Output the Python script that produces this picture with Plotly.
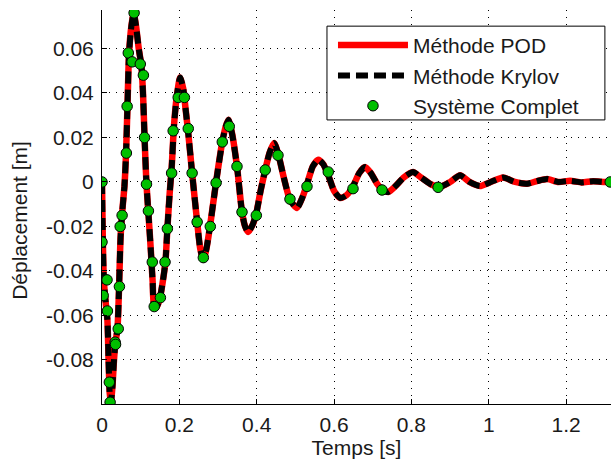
import plotly.graph_objects as go

# Reduced-model responses (POD and Krylov curves overlap)
t_line = [0.000, 0.002, 0.005, 0.010, 0.014, 0.017, 0.020, 0.023, 0.027, 0.031,
          0.035, 0.040, 0.044, 0.048, 0.053, 0.058, 0.062, 0.066, 0.070, 0.076,
          0.082, 0.088, 0.095, 0.102, 0.106, 0.110, 0.115, 0.120, 0.126, 0.131,
          0.135, 0.142, 0.150, 0.157, 0.164, 0.169, 0.175, 0.180, 0.186, 0.193,
          0.202, 0.210, 0.216, 0.223, 0.233, 0.246, 0.254, 0.262, 0.270, 0.280,
          0.295, 0.311, 0.320, 0.327, 0.336, 0.349, 0.362, 0.370, 0.378, 0.390,
          0.399, 0.410, 0.422, 0.433, 0.445, 0.455, 0.470, 0.486, 0.504, 0.518,
          0.530, 0.545, 0.559, 0.572, 0.585, 0.600, 0.616, 0.632, 0.649, 0.665,
          0.680, 0.695, 0.712, 0.725, 0.740, 0.758, 0.780, 0.804, 0.825, 0.850,
          0.874, 0.900, 0.926, 0.950, 0.977, 1.005, 1.037, 1.068, 1.099, 1.125,
          1.151, 1.180, 1.210, 1.240, 1.270, 1.300, 1.320]
pod_vals = [0.000, -0.025, -0.045, -0.055, -0.062, -0.080, -0.095, -0.099, -0.092, -0.080,
            -0.072, -0.066, -0.048, -0.025, -0.012, -0.002, 0.012, 0.035, 0.058, 0.070,
            0.076, 0.070, 0.060, 0.052, 0.040, 0.020, -0.001, -0.014, -0.030, -0.045,
            -0.056, -0.056, -0.052, -0.045, -0.036, -0.021, -0.005, 0.006, 0.025, 0.038,
            0.047, 0.042, 0.033, 0.022, 0.004, -0.018, -0.030, -0.035, -0.030, -0.019,
            0.000, 0.018, 0.025, 0.028, 0.022, 0.007, -0.0135, -0.020, -0.0225, -0.019,
            -0.014, -0.004, 0.0054, 0.013, 0.0175, 0.013, 0.002, -0.008, -0.0117, -0.007,
            -0.001, 0.007, 0.010, 0.008, 0.003, -0.004, -0.0072, -0.006, -0.002, 0.004,
            0.0067, 0.004, -0.001, -0.0036, -0.0045, -0.002, 0.002, 0.0045, 0.002, -0.001,
            -0.0022, 0.000, 0.003, 0.000, -0.0018, 0.000, 0.002, 0.000, -0.0008, 0.0004,
            0.0013, 0.000, 0.0005, -0.0002, 0.0003, 0.000, 0.000]
krylov_vals = list(pod_vals)

# Full system samples
t_full = [0.000, 0.000, 0.003, 0.013, 0.014, 0.019, 0.021, 0.034, 0.035, 0.042,
          0.045, 0.047, 0.052, 0.063, 0.065, 0.068, 0.078, 0.083, 0.099, 0.107,
          0.110, 0.115, 0.120, 0.130, 0.135, 0.151, 0.163, 0.169, 0.180, 0.184,
          0.197, 0.213, 0.223, 0.233, 0.246, 0.262, 0.280, 0.295, 0.311, 0.329,
          0.349, 0.362, 0.399, 0.422, 0.455, 0.486, 0.530, 0.585, 0.649, 0.724,
          0.869, 1.314]
full_vals = [0.000, -0.027, -0.051, -0.044, -0.058, -0.090, -0.099, -0.072, -0.073, -0.066,
             -0.047, -0.020, -0.015, 0.013, 0.034, 0.058, 0.054, 0.076, 0.053, 0.048,
             0.020, -0.001, -0.013, -0.036, -0.056, -0.052, -0.036, -0.021, 0.004, 0.023,
             0.038, 0.038, 0.024, 0.004, -0.018, -0.034, -0.020, -0.0004, 0.018, 0.025,
             0.007, -0.0135, -0.015, 0.0054, 0.012, -0.0077, -0.002, 0.0045, -0.003, -0.0036,
             -0.0024, 0.000]

x_ticks = [0, 0.2, 0.4, 0.6, 0.8, 1.0, 1.2]
x_ticklabels = ["0", "0.2", "0.4", "0.6", "0.8", "1", "1.2"]
y_ticks = [0.06, 0.04, 0.02, 0, -0.02, -0.04, -0.06, -0.08]
y_ticklabels = ["0.06", "0.04", "0.02", "0", "-0.02", "-0.04", "-0.06", "-0.08"]

FONT = "Liberation Sans, Arial, sans-serif"
TXT = "#1a1a1a"

fig = go.Figure()
fig.add_trace(go.Scatter(x=t_line, y=pod_vals, mode="lines", name="Méthode POD",
                         line=dict(color="#ff0000", width=6.5, shape="spline", smoothing=0.6)))
fig.add_trace(go.Scatter(x=t_line, y=krylov_vals, mode="lines", name="Méthode Krylov",
                         line=dict(color="#000000", width=6, dash="12px,6px",
                                   shape="spline", smoothing=0.6)))
fig.add_trace(go.Scatter(x=t_full, y=full_vals, mode="markers", name="Système Complet",
                         marker=dict(color="#00c000", size=10.5,
                                     line=dict(color="#000000", width=1))))

# legend frame
fig.add_shape(type="rect", xref="paper", yref="paper",
              x0=0.442, x1=0.988, y0=0.721, y1=0.959,
              fillcolor="white", line=dict(color="black", width=1), layer="above")

fig.add_annotation(text="Déplacement [m]", xref="paper", yref="paper",
                   x=-0.161, y=0.465, xanchor="center", yanchor="middle",
                   textangle=-90, showarrow=False,
                   font=dict(family=FONT, size=21, color=TXT))

fig.update_layout(
    width=611, height=466,
    margin=dict(l=102, r=0, t=10, b=62),
    paper_bgcolor="white", plot_bgcolor="white",
    font=dict(family=FONT, size=21, color=TXT),
    showlegend=True,
    legend=dict(x=0.4538, y=0.962, xanchor="left", yanchor="top",
                bgcolor="rgba(0,0,0,0)", borderwidth=0,
                font=dict(family=FONT, size=21, color=TXT),
                itemwidth=70, tracegroupgap=0),
    xaxis=dict(range=[0, 1.316], tickvals=x_ticks, ticktext=x_ticklabels,
               showline=True, linecolor="black", linewidth=1,
               ticks="inside", ticklen=5, tickcolor="black",
               ticklabelstandoff=2,
               showgrid=True, gridcolor="black", gridwidth=1, griddash="1px,6px",
               zeroline=False,
               title=dict(text="Temps [s]", font=dict(size=21), standoff=5)),
    yaxis=dict(range=[-0.0998, 0.0773], tickvals=y_ticks, ticktext=y_ticklabels,
               showline=True, linecolor="black", linewidth=1,
               ticks="inside", ticklen=5, tickcolor="black",
               ticklabelstandoff=3,
               showgrid=True, gridcolor="black", gridwidth=1, griddash="1px,6px",
               zeroline=False),
)

fig.write_html("out.html")
